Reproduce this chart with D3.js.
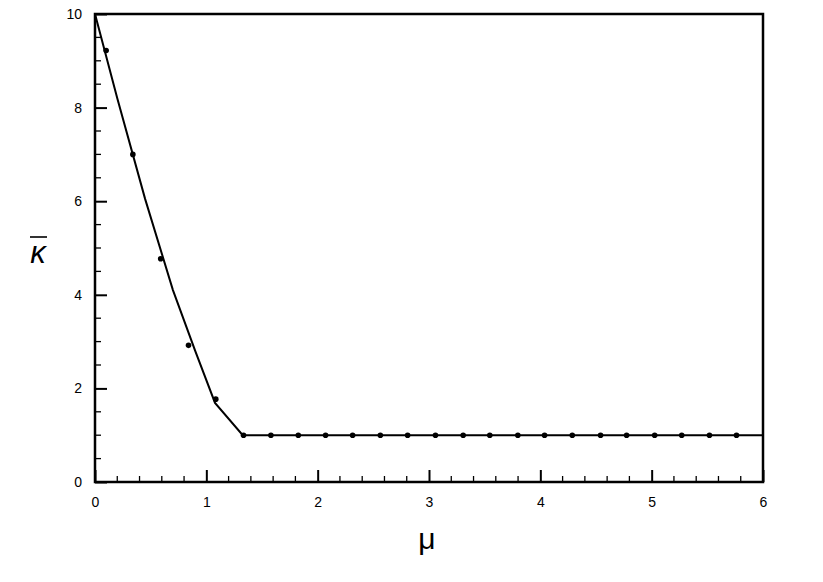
<!DOCTYPE html>
<meta charset="utf-8">
<script src="https://d3js.org/d3.v7.min.js"></script>
<style>
  body { margin: 0; background: white; }
  text { font-family: "Liberation Sans", Arial, sans-serif; }
</style>
<div id="chart"></div>
<script>
// measured points
var muPts = [0.10, 0.34, 0.59, 0.84, 1.085, 1.334, 1.58, 1.826, 2.071, 2.314, 2.563, 2.808,
             3.058, 3.307, 3.546, 3.798, 4.038, 4.287, 4.541, 4.775, 5.027, 5.27, 5.519, 5.762];
var kPts = [9.22, 7.0, 4.77, 2.92, 1.77, 1, 1, 1, 1, 1, 1, 1,
            1, 1, 1, 1, 1, 1, 1, 1, 1, 1, 1, 1];
// model curve
var muLine = [0, 0.2, 0.45, 0.70, 0.9, 1.078, 1.327, 6];
var kLine = [10, 8.2, 6.05, 4.10, 2.8, 1.69, 1.0, 1.0];

var xTicks = [0, 1, 2, 3, 4, 5, 6];
var yTicks = [0, 2, 4, 6, 8, 10];

var W = 823, H = 582;
var margin = {top: 14, right: 60, bottom: 100, left: 95},
    width = W - margin.left - margin.right,
    height = H - margin.top - margin.bottom;

var svg = d3.select("#chart").append("svg")
    .attr("width", W).attr("height", H);
var g = svg.append("g")
    .attr("transform", "translate(" + margin.left + "," + margin.top + ")");

var x = d3.scaleLinear().domain([0, 6]).range([0, width]);
var y = d3.scaleLinear().domain([0, 10]).range([height, 0]);

// minor ticks
var xMinor = d3.range(0, 6.001, 0.2).filter(function(v) { return Math.abs(v - Math.round(v)) > 1e-6; });
var yMinor = d3.range(0, 10.001, 0.5).filter(function(v) { return Math.abs(v / 2 - Math.round(v / 2)) > 1e-6; });

g.selectAll(".xminor").data(xMinor).enter().append("line")
    .attr("x1", function(d) { return x(d); }).attr("x2", function(d) { return x(d); })
    .attr("y1", height).attr("y2", height - 6)
    .attr("stroke", "#000").attr("stroke-width", 1.3);
g.selectAll(".yminor").data(yMinor).enter().append("line")
    .attr("y1", function(d) { return y(d); }).attr("y2", function(d) { return y(d); })
    .attr("x1", 0).attr("x2", 6)
    .attr("stroke", "#000").attr("stroke-width", 1.3);

// axes with inward major ticks
var xAxis = g.append("g").attr("transform", "translate(0," + height + ")")
    .call(d3.axisBottom(x).tickValues(xTicks).tickSize(-12).tickPadding(15).tickFormat(d3.format("d")));
var yAxis = g.append("g")
    .call(d3.axisLeft(y).tickValues(yTicks).tickSize(-12).tickPadding(13).tickFormat(d3.format("d")));
[xAxis, yAxis].forEach(function(a) {
  a.select(".domain").remove();
  a.selectAll(".tick line").attr("stroke", "#000").attr("stroke-width", 2);
  a.selectAll(".tick text").attr("fill", "#000").style("font-size", "14px");
});

// frame
g.append("rect").attr("x", 0).attr("y", 0).attr("width", width).attr("height", height)
    .attr("fill", "none").attr("stroke", "#000").attr("stroke-width", 2.5);

// curve
var line = d3.line()
    .x(function(d, i) { return x(muLine[i]); })
    .y(function(d, i) { return y(kLine[i]); });
g.append("path").datum(muLine).attr("d", line)
    .attr("fill", "none").attr("stroke", "#000").attr("stroke-width", 2);

// points
g.selectAll(".pt").data(muPts).enter().append("circle")
    .attr("cx", function(d) { return x(d); })
    .attr("cy", function(d, i) { return y(kPts[i]); })
    .attr("r", 2.8).attr("fill", "#000");

// axis titles
svg.append("text").attr("x", margin.left + width / 2 - 2).attr("y", 549)
    .attr("text-anchor", "middle").style("font-size", "30px").text("μ");

svg.append("text").attr("x", 38).attr("y", 263)
    .attr("text-anchor", "middle").style("font-size", "31px").style("font-style", "italic")
    .text("κ");
svg.append("line").attr("x1", 30).attr("x2", 47).attr("y1", 237).attr("y2", 237)
    .attr("stroke", "#000").attr("stroke-width", 1.6);
</script>
